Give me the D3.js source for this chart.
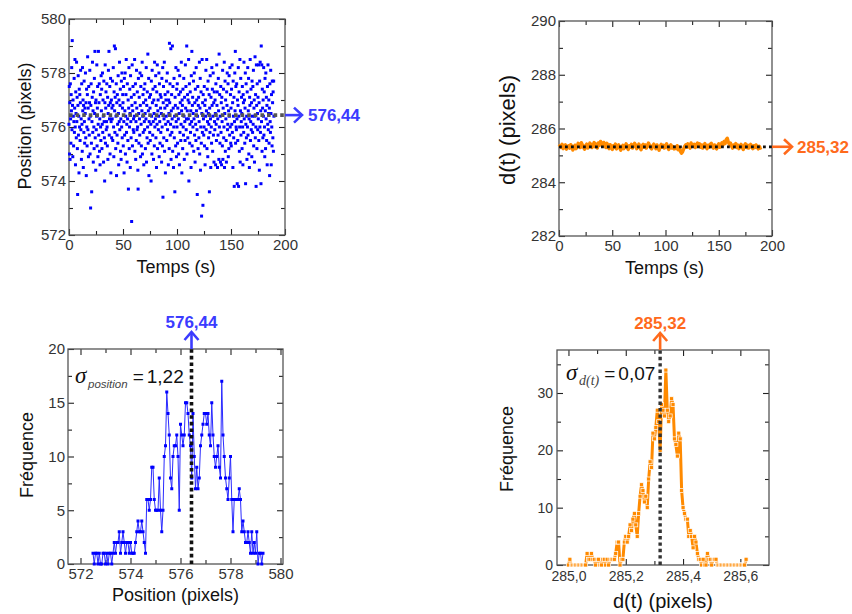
<!DOCTYPE html>
<html><head><meta charset="utf-8">
<script src="https://cdn.jsdelivr.net/npm/d3@7/dist/d3.min.js"></script>
<style>
body{margin:0;background:#fff}
text{font-family:"Liberation Sans",Arial,sans-serif}
</style>
</head><body>
<svg id="c" width="852" height="614" xmlns="http://www.w3.org/2000/svg"></svg>
<script>
// ---------------- DATA ----------------
// Position vs time (top-left), sampled every 0.25 s
const posSamplePeriod = 0.25;
const positionValues = [
576.1,577.5,575.0,576.9,574.8,577.6,576.3,575.4,577.2,576.6,578.2,575.9,579.2,576.8,574.9,577.0,576.4,575.3,576.2,577.8,
575.8,576.7,578.5,576.0,574.6,577.3,576.5,575.6,578.4,576.2,577.1,575.2,573.5,576.8,577.9,575.7,576.4,574.3,577.4,576.0,
577.2,575.5,576.9,578.1,575.9,576.3,574.8,577.6,576.1,575.1,578.2,576.6,577.0,574.5,576.8,575.8,577.7,576.2,575.4,576.7,
576.5,578.0,575.6,576.9,574.2,577.4,576.0,575.3,577.2,578.6,575.9,576.7,574.9,577.5,576.3,575.7,576.9,578.1,575.0,576.4,
573.0,576.8,577.6,575.4,573.6,576.2,577.1,578.4,575.8,576.6,574.7,577.3,576.0,575.2,577.8,576.5,578.8,575.6,576.9,574.4,
577.0,575.9,576.4,578.3,575.3,576.7,577.5,574.9,576.1,578.8,575.7,576.9,577.6,575.1,576.3,574.6,577.2,576.0,575.5,577.9,
576.6,577.4,575.2,576.1,578.0,575.8,577.0,576.4,574.7,577.7,576.2,575.6,574.0,576.9,578.3,575.4,576.7,577.3,575.9,576.2,
577.6,576.0,575.3,577.1,574.8,576.5,578.1,576.8,578.8,575.7,576.3,577.5,575.0,576.9,577.8,574.3,576.2,577.0,575.6,576.7,
576.3,577.7,575.5,576.8,578.2,576.0,574.9,577.3,579.0,576.6,575.8,577.1,578.9,575.2,576.4,577.6,574.2,576.9,575.7,577.2,
576.1,575.4,577.9,576.5,574.6,577.0,576.2,578.4,575.9,576.8,577.4,575.1,576.3,574.8,577.7,576.0,578.0,575.6,576.7,577.2,
576.9,575.3,577.5,576.2,574.3,577.8,575.7,576.6,578.0,575.0,576.4,577.2,578.5,575.8,576.1,574.7,577.6,576.3,575.5,577.0,
573.7,576.7,578.2,575.2,576.0,577.4,576.5,574.5,577.9,576.2,575.6,577.1,572.5,576.8,578.3,575.3,576.6,577.5,575.9,576.3,
575.8,577.2,576.4,578.5,575.1,576.9,577.6,574.8,576.2,575.5,578.1,576.7,575.9,577.3,576.0,574.4,573.7,577.8,576.5,575.4,
577.1,576.3,575.7,578.0,576.8,574.9,577.5,576.1,575.3,577.9,576.6,578.4,575.0,576.4,577.2,575.8,576.9,574.6,577.4,576.2,
575.9,577.6,576.5,575.2,577.0,576.3,578.2,574.7,576.8,575.6,577.3,576.0,578.7,575.4,576.6,577.8,574.2,576.2,577.1,575.8,
576.7,575.5,577.2,576.1,574.0,577.7,576.4,575.0,578.1,576.9,575.7,577.4,576.2,574.8,577.0,576.5,575.3,578.4,576.0,577.5,
576.3,577.9,575.6,576.8,574.5,577.3,576.1,578.3,575.2,576.6,577.0,575.9,576.4,578.0,574.9,577.6,576.2,575.4,577.2,576.7,
575.8,577.1,576.5,574.7,577.8,576.0,575.3,578.2,573.4,576.9,577.5,575.6,576.3,578.4,575.1,576.7,577.2,574.3,576.1,577.0,
576.4,577.7,575.5,576.8,578.0,575.9,577.3,576.2,574.6,577.0,576.5,575.2,579.1,576.9,577.6,575.7,576.1,578.9,574.8,576.6,
577.2,575.8,576.3,579.0,575.1,577.5,576.7,574.5,576.0,577.8,575.6,576.4,573.6,577.1,576.8,575.3,578.2,576.2,574.9,577.4,
576.0,577.6,575.4,576.7,578.1,576.3,575.0,577.2,576.5,574.6,577.9,575.8,576.9,577.3,575.5,576.1,578.4,576.6,574.3,577.0,
576.8,575.2,577.4,576.0,575.7,577.8,576.4,574.8,577.1,576.2,575.5,578.3,576.7,577.5,575.9,576.3,579.0,575.0,576.6,577.2,
575.6,577.0,576.3,578.5,574.0,576.9,577.6,575.4,576.1,577.3,575.8,576.6,574.5,577.9,576.2,578.8,575.3,576.8,577.1,576.0,
576.5,577.7,575.1,576.3,578.0,575.7,576.9,574.7,577.4,576.1,575.5,578.2,576.6,577.0,575.9,573.5,576.4,577.5,575.2,576.8,
577.1,575.6,576.2,578.4,575.0,576.7,577.8,574.4,576.0,577.3,575.4,572.7,576.5,578.5,575.8,576.9,573.1,577.2,576.3,575.7,
576.0,577.5,575.3,576.8,574.6,577.0,576.4,578.1,575.9,576.6,578.5,575.2,577.4,576.2,574.9,577.7,576.5,575.6,576.1,577.2,
573.6,576.7,575.8,577.9,576.3,574.5,577.1,576.0,575.4,578.2,576.8,577.4,575.1,576.4,578.0,575.7,576.9,574.7,577.3,576.2,
575.9,577.0,576.5,574.6,577.6,576.1,575.5,578.3,576.8,577.3,574.5,576.3,575.7,577.8,576.6,574.8,578.7,576.0,577.2,575.4,
576.4,574.7,577.5,575.8,576.9,574.6,577.1,576.2,575.3,578.1,574.8,576.7,577.4,575.6,576.0,578.4,574.5,576.5,577.7,575.1,
577.0,576.3,575.5,574.7,577.3,576.8,578.0,575.9,576.1,577.6,574.9,576.6,575.2,577.9,576.4,575.7,578.2,576.0,577.2,575.4,
576.7,575.3,577.4,576.1,578.3,575.8,576.9,574.5,577.7,576.4,575.6,577.1,573.8,576.2,578.0,576.6,578.8,575.4,577.5,576.0,
575.9,577.6,576.3,573.9,577.0,575.5,576.8,578.2,573.8,576.4,577.3,575.1,576.0,578.5,574.7,576.6,577.8,575.7,576.2,577.1,
576.5,575.2,577.5,576.0,574.6,577.2,576.9,575.8,578.4,576.3,577.0,575.4,576.7,578.0,573.9,576.1,577.6,575.6,576.4,574.8,
577.3,576.0,578.2,575.7,576.6,577.8,575.0,576.3,574.5,577.1,576.8,578.5,575.5,576.2,577.4,575.9,576.9,574.9,577.7,576.4,
575.8,577.5,576.1,578.1,575.3,576.7,577.0,574.7,576.4,578.6,575.6,577.2,576.0,573.8,578.3,576.8,575.2,577.6,576.5,575.9,
577.1,576.3,578.3,575.5,576.9,574.4,577.7,576.0,578.4,575.8,576.6,573.9,579.0,576.2,578.3,575.1,577.4,576.7,575.6,577.0,
576.4,578.2,575.7,577.3,576.0,574.9,577.8,576.6,575.2,578.0,576.3,577.1,575.5,576.8,574.6,577.5,576.1,578.3,575.9,576.5,
577.0,575.4,576.7,574.2,577.6,576.2,575.8,578.1,576.5,574.6,577.2,576.0,575.3,577.7,576.9,575.6,577.3,575.1,577.7,576.4
];

// d(t) vs time (top-right), sampled every 1 s
const distSamplePeriod = 1;
const distanceValues = [
285.32,285.37,285.29,285.41,285.25,285.34,285.39,285.23,285.30,285.36,
285.27,285.40,285.34,285.20,285.29,285.38,285.25,285.32,285.45,285.36,
285.29,285.47,285.39,285.30,285.23,285.36,285.42,285.27,285.34,285.46,
285.39,285.29,285.38,285.48,285.32,285.42,285.27,285.46,285.38,285.52,
285.42,285.34,285.48,285.38,285.29,285.45,285.35,285.25,285.40,285.32,
285.22,285.36,285.29,285.42,285.24,285.34,285.39,285.27,285.19,285.30,
285.38,285.25,285.34,285.43,285.29,285.22,285.36,285.30,285.41,285.27,
285.34,285.45,285.38,285.25,285.32,285.42,285.29,285.21,285.36,285.41,
285.30,285.39,285.27,285.34,285.46,285.38,285.29,285.24,285.36,285.42,
285.33,285.25,285.39,285.29,285.19,285.34,285.41,285.30,285.38,285.27,
285.36,285.43,285.29,285.22,285.34,285.39,285.27,285.33,285.24,285.30,
285.25,285.36,285.21,285.29,285.15,285.08,285.13,285.23,285.34,285.39,
285.30,285.43,285.36,285.27,285.46,285.38,285.33,285.41,285.29,285.39,
285.46,285.34,285.43,285.30,285.39,285.27,285.36,285.44,285.33,285.25,
285.38,285.30,285.41,285.45,285.34,285.27,285.39,285.33,285.24,285.36,
285.43,285.30,285.38,285.47,285.39,285.52,285.44,285.58,285.64,285.49,
285.41,285.46,285.34,285.27,285.39,285.33,285.44,285.29,285.38,285.25,
285.34,285.41,285.30,285.22,285.36,285.43,285.29,285.38,285.27,285.34,
285.41,285.30,285.25,285.36,285.29,285.39,285.33,285.24,285.34,285.27,285.30
];

// Histogram of position (bottom-left)
const posHistStart = 572.50, posHistStep = 0.05;
const posHistCounts = [
1,0,1,1,0,1,0,0,1,1,0,1,0,1,1,0,1,
2,1,2,2,3,1,2,3,
2,1,2,2,1,2,1,1,1,2,
3,4,3,3,4,3,2,1,
6,6,5,6,9,9,6,5,
5,5,8,5,3,5,10,
11,16,14,12,8,
7,10,11,11,12,10,5,
13,12,11,12,15,15,14,12,11,
8,14,10,7,9,7,
8,11,12,13,14,14,13,14,12,11,
15,12,10,9,10,11,9,8,
17,12,10,8,7,6,
8,10,6,3,6,6,6,6,7,6,
3,4,3,2,2,3,2,1,
3,1,2,1,3,0,1,1,0,1
];

// Histogram of d(t) (bottom-right)
const distHistStart = 285.000, distHistStep = 0.005;
const distHistCounts = [
0,1,0,0,0,0,0,0,0,0,0,0,0,
2,1,1,2,
1,1,0,1,1,0,0,1,1,0,
1,0,1,1,1,1,
2,4,4,
0,1,
1,4,5,
4,5,7,
6,8,9,
7,5,9,
12,14,13,
11,12,10,
15,18,17,
23,22,24,
27,25,20,
28,27,26,
34,
27,25,26,
29,28,22,
21,19,23,
22,13,10,
9,8,8,
5,6,5,
3,5,4,
2,1,1,
0,1,0,
0,2,1,
1,0,1,
1,1,0,
0,0,0,0,0,0,0,0,0,0,0,0,0,0,0,0,0,0,0,
1
];

const posMean = 576.44, posMeanLabel = "576,44", posSigmaLabel = "1,22";
const distMean = 285.32, distMeanLabel = "285,32", distSigmaLabel = "0,07";

const timeTicksMajor = [0, 50, 100, 150, 200], timeTicksMinor = [25, 75, 125, 175];
const posTicksMajor = [572, 574, 576, 578, 580], posTicksMinor = [573, 575, 577, 579];
const distTicksMajor = [282, 284, 286, 288, 290], distTicksMinor = [283, 285, 287, 289];
const freqPosTicksMajor = [0, 5, 10, 15, 20], freqPosTicksMinor = [2.5, 7.5, 12.5, 17.5];
const histDistTicksMajor = [285.0, 285.2, 285.4, 285.6], histDistTicksMinor = [285.1, 285.3, 285.5];
const freqDistTicksMajor = [0, 10, 20, 30], freqDistTicksMinor = [5, 15, 25, 35];

// ---------------- DRAWING ----------------
const svg = d3.select("#c");
const BLUE = "#0000ff", BLUE_TXT = "#3b3bff", ORANGE = "#ff8a00", ORANGE_TXT = "#ff6a1c";
const FRAME = "#555", TICKTXT = "#333";
const SERIF = '"Liberation Serif","Times New Roman",serif';
const comma = f => (v => f(v).replace(".", ","));

function panel(p) {
  const g = svg.append("g");
  const x = d3.scaleLinear().domain(p.xDomain).range([p.left, p.right]);
  const y = d3.scaleLinear().domain(p.yDomain).range([p.bottom, p.top]);
  const fs = p.tickFont || 15;
  const styleAxis = (sel, labels) => {
    sel.select(".domain").remove();
    sel.selectAll(".tick line").attr("stroke", "#222").attr("stroke-width", 1.1);
    sel.selectAll(".tick text").attr("fill", TICKTXT).style("font-size", fs + "px")
      .style("font-family", '"Liberation Sans",Arial,sans-serif');
    if (!labels) sel.selectAll(".tick text").remove();
  };
  const fx = p.xFormat || (v => String(v));
  const fy = p.yFormat || (v => String(v));
  g.append("g").attr("transform", `translate(0,${p.bottom})`)
    .call(d3.axisBottom(x).tickValues(p.xMajor).tickSize(-6).tickPadding(p.xPad || 4).tickFormat(fx)).call(s => styleAxis(s, true));
  g.append("g").attr("transform", `translate(0,${p.bottom})`)
    .call(d3.axisBottom(x).tickValues(p.xMinor).tickSize(-4)).call(s => styleAxis(s, false));
  g.append("g").attr("transform", `translate(0,${p.top})`)
    .call(d3.axisTop(x).tickValues(p.xMajor).tickSize(-6)).call(s => styleAxis(s, false));
  g.append("g").attr("transform", `translate(0,${p.top})`)
    .call(d3.axisTop(x).tickValues(p.xMinor).tickSize(-4)).call(s => styleAxis(s, false));
  g.append("g").attr("transform", `translate(${p.left},0)`)
    .call(d3.axisLeft(y).tickValues(p.yMajor).tickSize(-6).tickPadding(p.yPad || 3).tickFormat(fy)).call(s => styleAxis(s, true));
  g.append("g").attr("transform", `translate(${p.left},0)`)
    .call(d3.axisLeft(y).tickValues(p.yMinor).tickSize(-4)).call(s => styleAxis(s, false));
  g.append("g").attr("transform", `translate(${p.right},0)`)
    .call(d3.axisRight(y).tickValues(p.yMajor).tickSize(-6)).call(s => styleAxis(s, false));
  g.append("g").attr("transform", `translate(${p.right},0)`)
    .call(d3.axisRight(y).tickValues(p.yMinor).tickSize(-4)).call(s => styleAxis(s, false));
  g.append("rect").attr("x", p.left).attr("y", p.top)
    .attr("width", p.right - p.left).attr("height", p.bottom - p.top)
    .attr("fill", "none").attr("stroke", FRAME).attr("stroke-width", 1.3);
  g.append("text").attr("x", (p.left + p.right) / 2 + (p.xTitleDx || 0)).attr("y", p.xTitleY)
    .attr("text-anchor", "middle").style("font-size", p.xTitleSize + "px").attr("fill", "#111").text(p.xTitle);
  g.append("text").attr("transform", `translate(${p.yTitleX},${p.yTitleY}) rotate(-90)`)
    .attr("text-anchor", "middle").attr("dy", "0.35em").style("font-size", p.yTitleSize + "px").attr("fill", "#111").text(p.yTitle);
  return {g, x, y};
}

function arrowRight(g, x0, x1, yv, color) {
  g.append("line").attr("x1", x0).attr("x2", x1).attr("y1", yv).attr("y2", yv)
    .attr("stroke", color).attr("stroke-width", 2.6);
  g.append("path").attr("d", `M${x1 - 8},${yv - 7.5}L${x1},${yv}L${x1 - 8},${yv + 7.5}`)
    .attr("fill", "none").attr("stroke", color).attr("stroke-width", 2.6);
}
function arrowUp(g, xv, y0, y1, color) {
  g.append("line").attr("x1", xv).attr("x2", xv).attr("y1", y0).attr("y2", y1)
    .attr("stroke", color).attr("stroke-width", 2.6);
  g.append("path").attr("d", `M${xv - 7},${y1 + 8}L${xv},${y1}L${xv + 7},${y1 + 8}`)
    .attr("fill", "none").attr("stroke", color).attr("stroke-width", 2.6);
}
function sigmaLabel(g, x0, yb, sub, subSerif, val) {
  g.append("text").attr("x", x0).attr("y", yb).style("font-family", SERIF).style("font-style", "italic")
    .style("font-size", "23px").attr("fill", "#111").text("σ");
  const s = g.append("text").attr("x", x0 + 13).attr("y", yb + 5).style("font-style", "italic")
    .style("font-size", (subSerif ? 14 : 11.5) + "px").attr("fill", "#444").text(sub);
  if (subSerif) s.style("font-family", SERIF);
  const w = s.node().getComputedTextLength();
  const e = g.append("text").attr("x", x0 + 13 + w + 5).attr("y", yb).style("font-size", "19px").attr("fill", "#111").text("=");
  const we = e.node().getComputedTextLength();
  g.append("text").attr("x", x0 + 13 + w + 5 + we + 3).attr("y", yb).style("font-size", "19px").attr("fill", "#111").text(val);
}

// ---- Panel A: position vs time ----
{
  const {g, x, y} = panel({
    left: 69, right: 285, top: 19, bottom: 235,
    xDomain: [0, 200], yDomain: [572, 580],
    xMajor: timeTicksMajor, xMinor: timeTicksMinor, yMajor: posTicksMajor, yMinor: posTicksMinor,
    xTitle: "Temps (s)", xTitleY: 273, xTitleSize: 18, xTitleDx: -1,
    yTitle: "Position (pixels)", yTitleX: 25, yTitleY: 126, yTitleSize: 18
  });
  g.append("g").selectAll("rect").data(positionValues).join("rect")
    .attr("x", (d, i) => x(i * posSamplePeriod) - 1.5).attr("y", d => y(d) - 1.5)
    .attr("width", 3).attr("height", 3).attr("fill", BLUE);
  g.append("line").attr("x1", x(0)).attr("x2", x(200)).attr("y1", y(posMean)).attr("y2", y(posMean))
    .attr("stroke", "#555").attr("stroke-width", 3.6).attr("stroke-dasharray", "3.6 3");
  arrowRight(g, x(200), x(200) + 17, y(posMean), BLUE_TXT);
  g.append("text").attr("x", x(200) + 23).attr("y", y(posMean)).attr("dy", "0.36em")
    .style("font-size", "17px").style("font-weight", "bold").attr("fill", BLUE_TXT).text(posMeanLabel);
}

// ---- Panel B: d(t) vs time ----
{
  const {g, x, y} = panel({
    left: 559, right: 772, top: 21, bottom: 236,
    xDomain: [0, 200], yDomain: [282, 290],
    xMajor: timeTicksMajor, xMinor: timeTicksMinor, yMajor: distTicksMajor, yMinor: distTicksMinor,
    xTitle: "Temps (s)", xTitleY: 274, xTitleSize: 18, xTitleDx: -1,
    yTitle: "d(t)  (pixels)", yTitleX: 507, yTitleY: 130, yTitleSize: 22
  });
  const line = d3.line().x((d, i) => x(i * distSamplePeriod)).y(d => y(d));
  g.append("path").datum(distanceValues).attr("d", line)
    .attr("fill", "none").attr("stroke", ORANGE).attr("stroke-width", 3.4).attr("stroke-linejoin", "round");
  g.append("line").attr("x1", x(0)).attr("x2", x(200)).attr("y1", y(distMean)).attr("y2", y(distMean))
    .attr("stroke", "#111").attr("stroke-width", 2.8).attr("stroke-dasharray", "2.8 3.2");
  arrowRight(g, x(200), x(200) + 20, y(distMean), ORANGE_TXT);
  g.append("text").attr("x", x(200) + 25).attr("y", y(distMean)).attr("dy", "0.36em")
    .style("font-size", "17px").style("font-weight", "bold").attr("fill", ORANGE_TXT).text(distMeanLabel);
}

// ---- Panel C: histogram of position ----
{
  const {g, x, y} = panel({
    left: 68, right: 283, top: 349, bottom: 564,
    xDomain: [571.5, 580.1], yDomain: [0, 20],
    xMajor: posTicksMajor, xMinor: posTicksMinor, yMajor: freqPosTicksMajor, yMinor: freqPosTicksMinor,
    xTitle: "Position (pixels)", xTitleY: 601, xTitleSize: 18, xTitleDx: 0,
    yTitle: "Fréquence", yTitleX: 27, yTitleY: 455, yTitleSize: 18
  });
  const pts = posHistCounts.map((c, i) => [posHistStart + i * posHistStep, c]);
  g.append("path").datum(pts).attr("d", d3.line().x(d => x(d[0])).y(d => y(d[1])))
    .attr("fill", "none").attr("stroke", "#2b2bff").attr("stroke-width", 1);
  g.append("g").selectAll("rect").data(pts).join("rect")
    .attr("x", d => x(d[0]) - 1.5).attr("y", d => y(d[1]) - 1.5).attr("width", 3).attr("height", 3).attr("fill", BLUE);
  g.append("line").attr("x1", x(posMean)).attr("x2", x(posMean)).attr("y1", y(0)).attr("y2", y(20))
    .attr("stroke", "#111").attr("stroke-width", 3.6).attr("stroke-dasharray", "3.6 3");
  arrowUp(g, x(posMean), y(20), y(20) - 17, BLUE_TXT);
  g.append("text").attr("x", x(posMean)).attr("y", y(20) - 21).attr("text-anchor", "middle")
    .style("font-size", "17px").style("font-weight", "bold").attr("fill", BLUE_TXT).text(posMeanLabel);
  sigmaLabel(g, 75, 383, "position", false, posSigmaLabel);
}

// ---- Panel D: histogram of d(t) ----
{
  const {g, x, y} = panel({
    left: 557, right: 769, top: 350, bottom: 565,
    xDomain: [284.96, 285.70], yDomain: [0, 37.5],
    xMajor: histDistTicksMajor, xMinor: histDistTicksMinor, yMajor: freqDistTicksMajor, yMinor: freqDistTicksMinor,
    xFormat: comma(d3.format(".1f")), tickFont: 14, xPad: 6, yPad: 4,
    xTitle: "d(t)  (pixels)", xTitleY: 608, xTitleSize: 20, xTitleDx: 0,
    yTitle: "Fréquence", yTitleX: 507, yTitleY: 449, yTitleSize: 18
  });
  const pts = distHistCounts.map((c, i) => [distHistStart + i * distHistStep, c]);
  g.append("path").datum(pts).attr("d", d3.line().x(d => x(d[0])).y(d => y(d[1])))
    .attr("fill", "none").attr("stroke", ORANGE).attr("stroke-width", 3);
  g.append("g").selectAll("rect").data(pts).join("rect")
    .attr("x", d => x(d[0]) - 2).attr("y", d => y(d[1]) - 2).attr("width", 4).attr("height", 4)
    .attr("fill", ORANGE).attr("stroke", "#fff").attr("stroke-width", 0.7);
  g.append("line").attr("x1", x(distMean)).attr("x2", x(distMean)).attr("y1", y(0)).attr("y2", y(37.5))
    .attr("stroke", "#333").attr("stroke-width", 3.4).attr("stroke-dasharray", "3.4 3");
  arrowUp(g, x(distMean), y(37.5), y(37.5) - 17, ORANGE_TXT);
  g.append("text").attr("x", x(distMean)).attr("y", y(37.5) - 21).attr("text-anchor", "middle")
    .style("font-size", "17px").style("font-weight", "bold").attr("fill", ORANGE_TXT).text(distMeanLabel);
  sigmaLabel(g, 566, 380, "d(t)", true, distSigmaLabel);
}
</script>
</body></html>
